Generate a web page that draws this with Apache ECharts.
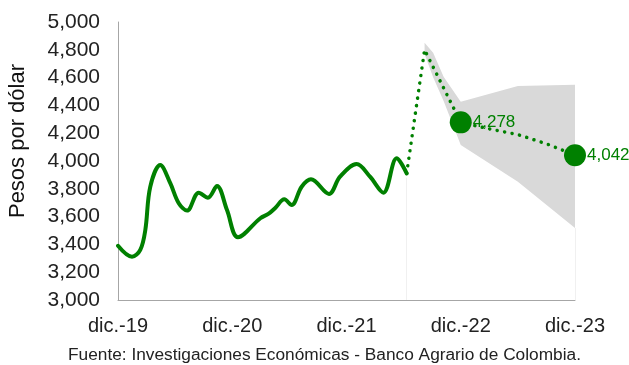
<!DOCTYPE html>
<html>
<head>
<meta charset="utf-8">
<script src="https://cdn.jsdelivr.net/npm/echarts@6/dist/echarts.min.js"></script>
<style>
  html, body { margin: 0; padding: 0; background: #fff; }
  #chart { width: 629px; height: 365px; }
</style>
</head>
<body>
<div id="chart"></div>
<script>
// Tipo de cambio COP/USD: histórico y proyección.
// El eje X cuenta meses desde diciembre de 2019.
const tickLabels = ['dic.-19', 'dic.-20', 'dic.-21', 'dic.-22', 'dic.-23'];

// Histórico (promedio)
const histMonths = [0, 1.47, 2.34, 2.87, 3.39, 4.44, 5.49, 6.38, 7.25, 8.48, 9.45, 10.40, 11.45, 12.60,
  14.95, 15.79, 16.49, 17.47, 18.24, 19.29, 20.27, 22.16, 23.32, 25.07, 26.47, 27.87, 29.27, 30.32];
const histValues = [3390, 3311, 3360, 3504, 3815, 3971, 3840, 3696, 3643, 3772, 3736, 3820, 3647, 3451,
  3588, 3619, 3660, 3724, 3683, 3815, 3868, 3763, 3887, 3978, 3887, 3772, 4019, 3911];

// Proyección (escenario base)
const fcMonths = [30.32, 32.2, 36, 39, 42, 45, 48];
const fcValues = [3911, 4800, 4278, 4231, 4190, 4124, 4042];

// Rango de proyección
const bandMonths = [32.2, 33.1, 34.2, 36, 42, 48];
const bandHigh = [4851, 4779, 4606, 4427, 4540, 4549];
const bandLow = [4770, 4603, 4432, 4115, 3851, 3518];

// Cierres de año proyectados
const closeMonths = [36, 48];
const closeValues = [4278, 4042];

const GREEN = '#008000';
const FONT = '"Liberation Sans", Arial, sans-serif';
const fmt = v => Math.round(v).toLocaleString('en-US');
const pairs = (xs, ys) => xs.map((x, i) => [x, ys[i]]);

const chart = echarts.init(document.getElementById('chart'), null, { renderer: 'canvas' });

chart.setOption({
  animation: false,
  grid: { left: 118, right: 54, top: 22, bottom: 65, containLabel: false },
  xAxis: {
    type: 'value', min: 0, max: 48, interval: 12,
    axisLine: { show: true, onZero: false, lineStyle: { color: '#a6a6a6', width: 1 } },
    axisTick: { show: false },
    splitLine: { show: false },
    axisLabel: {
      margin: 16, color: '#222', fontFamily: FONT, fontSize: 20,
      formatter: v => tickLabels[Math.round(v / 12)]
    }
  },
  yAxis: {
    type: 'value', min: 3000, max: 5000, interval: 200,
    axisLine: { show: true, lineStyle: { color: '#a6a6a6', width: 1 } },
    axisTick: { show: false },
    splitLine: { show: false },
    axisLabel: { margin: 18, color: '#222', fontFamily: FONT, fontSize: 21, formatter: fmt }
  },
  graphic: [
    {
      type: 'text', x: 18, y: 141, rotation: Math.PI / 2,
      style: { text: 'Pesos por dólar', fill: '#111', font: '22px ' + FONT, textAlign: 'center', textVerticalAlign: 'middle' }
    },
    {
      type: 'text', x: 68, y: 355,
      style: { text: 'Fuente: Investigaciones Económicas - Banco Agrario de Colombia.', fill: '#222', font: '17.3px ' + FONT, textAlign: 'left', textVerticalAlign: 'middle' }
    }
  ],
  series: [
    {
      // Banda del rango: polígono entre el límite superior y el inferior
      name: 'rango', type: 'custom', z: 1, silent: true,
      data: [0],
      renderItem: (params, api) => {
        const top = bandMonths.map((m, i) => api.coord([m, bandHigh[i]]));
        const bottom = bandMonths.map((m, i) => api.coord([m, bandLow[i]])).reverse();
        return {
          type: 'polygon',
          shape: { points: top.concat(bottom) },
          style: { fill: '#d9d9d9', stroke: null }
        };
      }
    },
    {
      name: 'Proyección', type: 'line', data: pairs(fcMonths, fcValues),
      symbol: 'none', z: 3,
      lineStyle: { color: GREEN, width: 3.5, type: [0.1, 7.5], cap: 'round' },
      markLine: {
        silent: true, symbol: 'none', label: { show: false },
        lineStyle: { color: '#f0f0f0', width: 1, type: 'solid' },
        data: [
          [{ coord: [fcMonths[0], 3880] }, { coord: [fcMonths[0], 3000] }],
          [{ coord: [48, bandLow[bandLow.length - 1]] }, { coord: [48, 3000] }]
        ]
      }
    },
    {
      name: 'Histórico', type: 'line', data: pairs(histMonths, histValues),
      symbol: 'none', smooth: 0.35, z: 4,
      lineStyle: { color: GREEN, width: 4, cap: 'round', join: 'round' }
    },
    {
      name: 'Cierre', type: 'scatter', z: 5,
      data: [
        { value: [closeMonths[0], closeValues[0]], label: { offset: [0, -10] } },
        { value: [closeMonths[1], closeValues[1]] }
      ],
      symbol: 'circle', symbolSize: 22,
      itemStyle: { color: GREEN, opacity: 1 },
      label: {
        show: true, position: 'right', distance: 1,
        color: GREEN, fontFamily: FONT, fontSize: 17,
        formatter: p => fmt(p.value[1])
      },
      labelLayout: { hideOverlap: false }
    }
  ]
});
</script>
</body>
</html>
